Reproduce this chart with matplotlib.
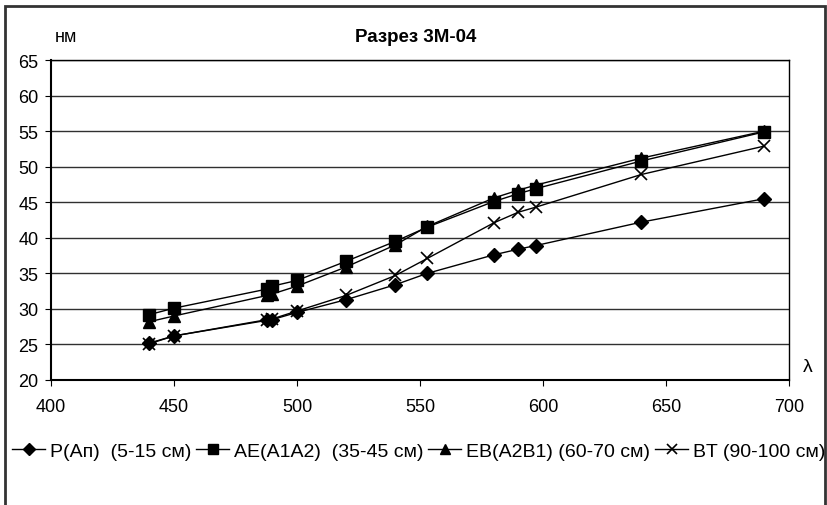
import matplotlib
matplotlib.use('Agg')
from matplotlib import pyplot as plt
from matplotlib.patches import Rectangle

plt.rcParams['font.family'] = ['Liberation Sans', 'DejaVu Sans']

wavelength = [440, 450, 488, 490, 500, 520, 540, 553, 580, 590, 597, 640, 690]

p_ap = [25.2, 26.2, 28.4, 28.5, 29.5, 31.3, 33.4, 35.0, 37.6, 38.4, 38.9, 42.2, 45.5]
ae_a1a2 = [29.2, 30.1, 32.8, 33.2, 34.0, 36.7, 39.5, 41.5, 45.1, 46.2, 46.9, 50.8, 54.9]
eb_a2b1 = [28.2, 29.0, 31.9, 32.1, 33.2, 35.9, 39.0, 41.6, 45.6, 46.7, 47.4, 51.2, 55.0]
bt = [25.1, 26.2, 28.5, 28.6, 29.7, 31.9, 34.7, 37.1, 42.1, 43.6, 44.3, 48.9, 52.9]

labels = ['P(Ап)  (5-15 см)', 'AE(A1A2)  (35-45 см)', 'EB(A2B1) (60-70 см)', 'BT (90-100 см)']

fig = plt.figure(figsize=(8.28, 5.06), dpi=100)
ax = fig.add_axes([51 / 828, 1 - 381 / 506, (789 - 51) / 828, (381 - 61) / 506])

# series, same black style, different markers
ax.plot(wavelength, p_ap, color='black', lw=1, marker='D', ms=7, label=labels[0])
ax.plot(wavelength, ae_a1a2, color='black', lw=1, marker='s', ms=8, label=labels[1])
ax.plot(wavelength, eb_a2b1, color='black', lw=1, marker='^', ms=8, label=labels[2])
ax.plot(wavelength, bt, color='black', lw=1, marker='x', ms=9, mew=1.2, label=labels[3])

ax.set_xlim(400, 700)
ax.set_ylim(20, 65)
ax.set_xticks(range(400, 701, 50))
ax.set_yticks(range(20, 66, 5))
ax.yaxis.grid(True, color='#303030', lw=1)
ax.set_axisbelow(True)
ax.tick_params(labelsize=13, direction='out', length=4, color='black')
ax.tick_params(axis='x', pad=9)
ax.tick_params(axis='y', pad=5)
for s in ax.spines.values():
    s.set_color('black')
    s.set_linewidth(1)
ax.spines['bottom'].set_linewidth(1.5)
ax.spines['left'].set_linewidth(1.5)

fig.text(416 / 828, 1 - 38 / 506, 'Разрез 3М-04', ha='center', va='center',
         fontsize=13.5, fontweight='bold')
fig.text(66 / 828, 1 - 38 / 506, 'нм', ha='center', va='center', fontsize=13)
fig.text(808 / 828, 1 - 368 / 506, 'λ', ha='center', va='center', fontsize=14)

# outer chart frame
fig.patches.append(Rectangle((5 / 828, -0.05), 820 / 828, 1.05 - 7 / 506,
                             transform=fig.transFigure, fill=False,
                             edgecolor='#333333', lw=2))

fig.legend(loc='center left', bbox_to_anchor=(12 / 828, 1 - 452 / 506), ncol=4,
           frameon=False, handlelength=1.7, handletextpad=0.25, columnspacing=0.25,
           markerscale=0.85, prop={'size': 14}, borderaxespad=0, borderpad=0)

fig.savefig('out.png', dpi=100)
